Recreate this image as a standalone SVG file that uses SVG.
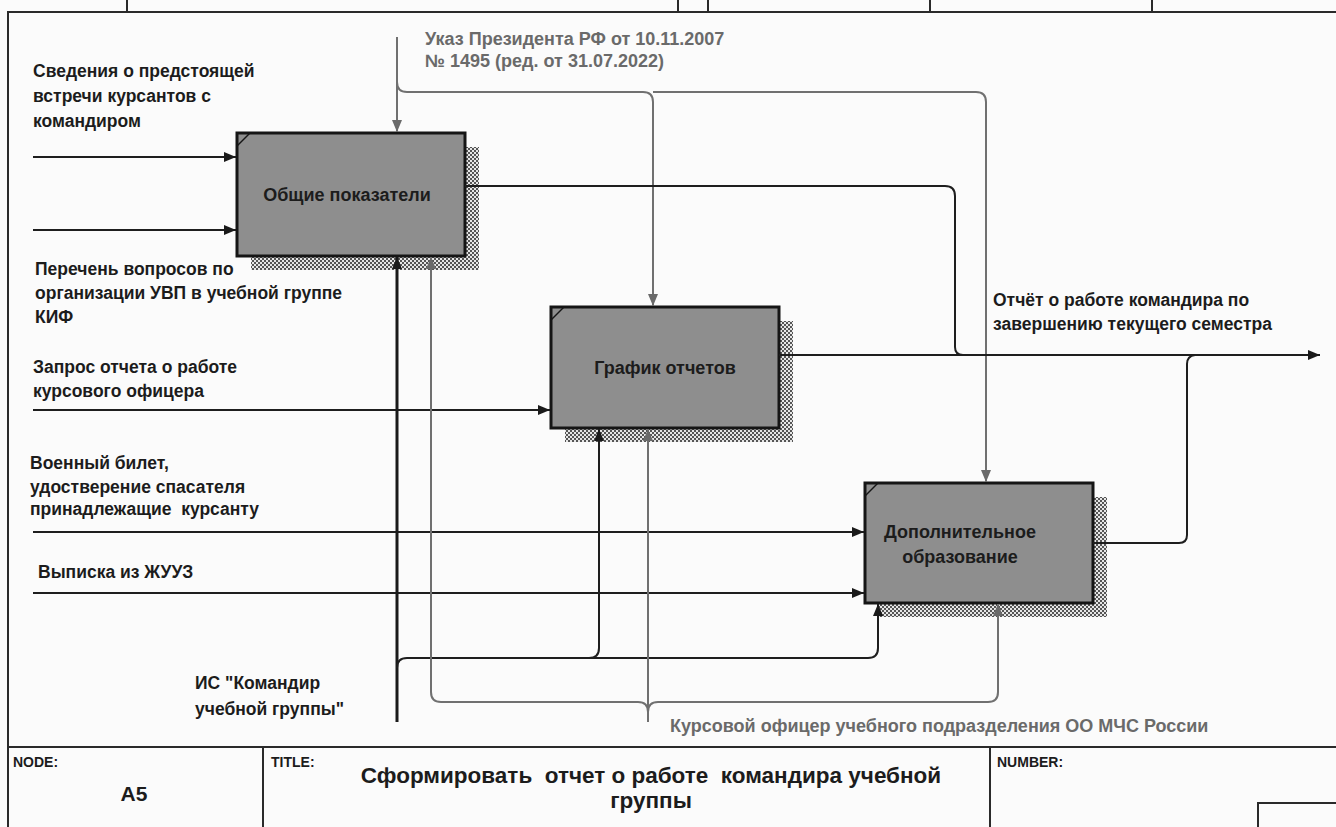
<svg xmlns="http://www.w3.org/2000/svg" width="1336" height="827" viewBox="0 0 1336 827">
  <defs>
    <style>
      .frame { fill: none; stroke: #2a2a2a; stroke-width: 2; }
      .box { fill: #8e8e8e; stroke: #151515; stroke-width: 3; }
      .corner { stroke: #151515; stroke-width: 1.5; }
      .shadow { fill: url(#hatch); }
      .lbl { font-family: "Liberation Sans", Arial, sans-serif; font-weight: bold; font-size: 17.5px; fill: #1c1c1c; }
      .lblg { font-family: "Liberation Sans", Arial, sans-serif; font-weight: bold; font-size: 18px; fill: #6a6a6a; }
      .boxt { font-family: "Liberation Sans", Arial, sans-serif; font-weight: bold; font-size: 18px; fill: #1c1c1c; text-anchor: middle; }
      .small { font-family: "Liberation Sans", Arial, sans-serif; font-weight: bold; font-size: 14px; fill: #1c1c1c; }
      .title { font-family: "Liberation Sans", Arial, sans-serif; font-weight: bold; font-size: 22.5px; fill: #1c1c1c; text-anchor: middle; }
      .blk { fill: none; stroke: #1e1e1e; stroke-width: 2; }
      .thick { fill: none; stroke: #1a1a1a; stroke-width: 3; }
      .gry { fill: none; stroke: #707070; stroke-width: 2; }
    </style>
    <pattern id="hatch" width="4" height="4" patternUnits="userSpaceOnUse">
      <rect width="4" height="4" fill="#e6e6e6"/>
      <rect x="0" y="0" width="2" height="2" fill="#555555"/>
      <rect x="2" y="2" width="2" height="2" fill="#555555"/>
    </pattern>
    <marker id="ab" viewBox="0 0 12 10" refX="12" refY="5" markerWidth="12" markerHeight="10" markerUnits="userSpaceOnUse" orient="auto">
      <path d="M0,0 L12,5 L0,10 Z" fill="#1a1a1a"/>
    </marker>
    <marker id="ag" viewBox="0 0 12 10" refX="12" refY="5" markerWidth="12" markerHeight="10" markerUnits="userSpaceOnUse" orient="auto">
      <path d="M0,0 L12,5 L0,10 Z" fill="#6a6a6a"/>
    </marker>
  </defs>

  <rect width="1336" height="827" fill="#fbfbfb"/>

  <!-- drawing frame and title block -->
  <g id="frame">
    <path class="frame" d="M8,827 V12 H1336"/>
    <path class="frame" d="M127,0 V12 M678,0 V12 M708,0 V12 M930,0 V12 M1152,0 V12"/>
    <path class="frame" d="M8,747 H1336 M263,747 V827 M990,747 V827"/>
    <path class="frame" d="M1258,827 V803 H1336"/>
    <text class="small" x="13" y="767">NODE:</text>
    <text class="small" x="271" y="767">TITLE:</text>
    <text class="small" x="997" y="767">NUMBER:</text>
    <text x="134" y="801" font-family="Liberation Sans, Arial, sans-serif" font-weight="bold" font-size="21" fill="#1c1c1c" text-anchor="middle">A5</text>
    <text class="title" x="651" y="783" xml:space="preserve">Сформировать  отчет о работе  командира учебной</text>
    <text class="title" x="651" y="808">группы</text>
  </g>

  <!-- activity boxes -->
  <g id="box-a1">
    <rect class="shadow" x="251" y="147" width="228" height="123"/>
    <rect class="box" x="237" y="133" width="228" height="123"/>
    <line class="corner" x1="237" y1="146" x2="250" y2="133"/>
    <text class="boxt" x="347" y="201">Общие показатели</text>
  </g>
  <g id="box-a2">
    <rect class="shadow" x="565" y="321" width="228" height="121"/>
    <rect class="box" x="551" y="307" width="228" height="121"/>
    <line class="corner" x1="551" y1="320" x2="564" y2="307"/>
    <text class="boxt" x="665" y="374">График отчетов</text>
  </g>
  <g id="box-a3">
    <rect class="shadow" x="879" y="497" width="228" height="120"/>
    <rect class="box" x="865" y="483" width="228" height="120"/>
    <line class="corner" x1="865" y1="496" x2="878" y2="483"/>
    <text class="boxt" x="960" y="538">Дополнительное</text>
    <text class="boxt" x="960" y="563">образование</text>
  </g>

  <!-- connectors -->
  <g id="connectors">
    <!-- inputs -->
    <path class="blk" d="M33,157 H236" marker-end="url(#ab)"/>
    <path class="blk" d="M33,230 H236" marker-end="url(#ab)"/>
    <path class="blk" d="M33,410 H550" marker-end="url(#ab)"/>
    <path class="blk" d="M33,532 H864" marker-end="url(#ab)"/>
    <path class="blk" d="M33,593 H864" marker-end="url(#ab)"/>

    <!-- control -->
    <path class="gry" d="M397,37 V132" marker-end="url(#ag)"/>
    <path class="gry" d="M397,82 Q397,92 407,92 H643 Q653,92 653,102 V306" marker-end="url(#ag)"/>
    <path class="gry" d="M653,92 H976 Q986,92 986,102 V482" marker-end="url(#ag)"/>

    <!-- outputs -->
    <path class="blk" d="M465,186 H945 Q955,186 955,196 V347 Q955,355 963,355"/>
    <path class="blk" d="M779,355 H1320" marker-end="url(#ab)"/>
    <path class="blk" d="M1093,543 H1179 Q1187,543 1187,535 V364 Q1187,356 1195,355"/>

    <!-- mechanisms -->
    <path class="thick" d="M397,722 V257" marker-end="url(#ab)"/>
    <path class="blk" d="M397,668 Q397,658 407,658 H868 Q878,658 878,648 V604" marker-end="url(#ab)"/>
    <path class="blk" d="M589,658 Q599,658 599,648 V429" marker-end="url(#ab)"/>

    <path class="gry" d="M648,722 V429" marker-end="url(#ag)"/>
    <path class="gry" d="M648,712 Q648,702 638,702 H441 Q431,702 431,692 V257" marker-end="url(#ag)"/>
    <path class="gry" d="M648,712 Q648,702 658,702 H988 Q998,702 998,692 V604" marker-end="url(#ag)"/>
  </g>

  <!-- arrow labels -->
  <g id="labels">
    <text class="lbl" x="33" y="77">Сведения о предстоящей</text>
    <text class="lbl" x="33" y="102">встречи курсантов с</text>
    <text class="lbl" x="33" y="127">командиром</text>

    <text class="lbl" x="35" y="275">Перечень вопросов по</text>
    <text class="lbl" x="35" y="299">организации УВП в учебной группе</text>
    <text class="lbl" x="35" y="323">КИФ</text>

    <text class="lbl" x="33" y="373">Запрос отчета о работе</text>
    <text class="lbl" x="33" y="397">курсового офицера</text>

    <text class="lbl" x="30" y="469">Военный билет,</text>
    <text class="lbl" x="30" y="493">удостверение спасателя</text>
    <text class="lbl" x="30" y="515" xml:space="preserve">принадлежащие  курсанту</text>

    <text class="lbl" x="38" y="578">Выписка из ЖУУЗ</text>

    <text class="lbl" x="195" y="689">ИС "Командир</text>
    <text class="lbl" x="195" y="715">учебной группы"</text>

    <text class="lblg" x="425" y="45">Указ Президента РФ от 10.11.2007</text>
    <text class="lblg" x="425" y="67">№ 1495 (ред. от 31.07.2022)</text>

    <text class="lbl" x="993" y="306">Отчёт о работе командира по</text>
    <text class="lbl" x="993" y="330">завершению текущего семестра</text>

    <text class="lblg" x="670" y="732">Курсовой офицер учебного подразделения ОО МЧС России</text>
  </g>
</svg>
